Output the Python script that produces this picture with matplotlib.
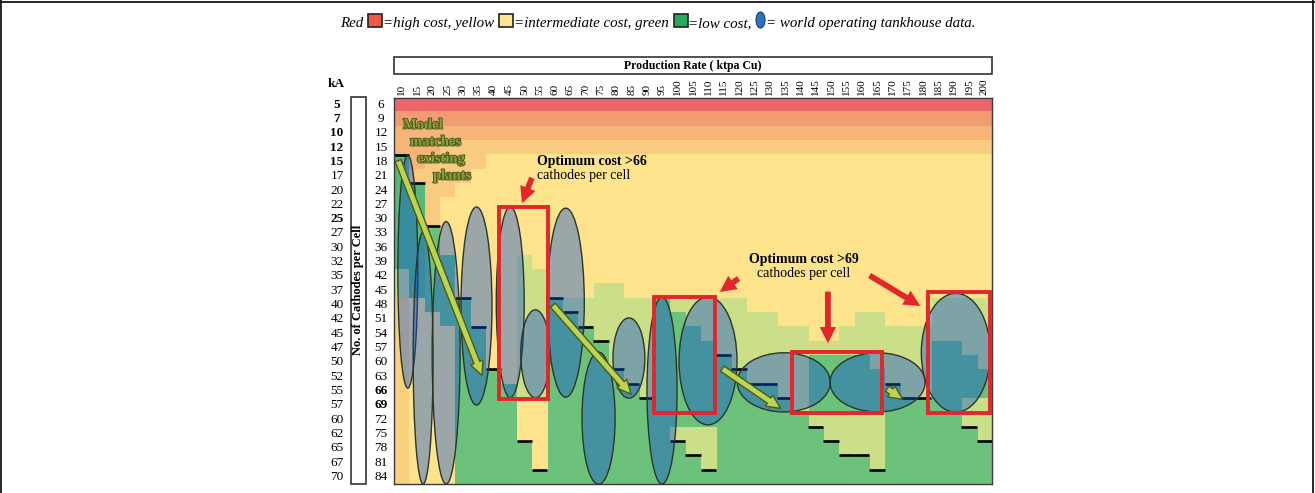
import numpy as np
import matplotlib
matplotlib.use("Agg")
import matplotlib.pyplot as plt
from matplotlib.patches import Ellipse, Rectangle, FancyArrowPatch
from matplotlib.colors import to_rgb
from matplotlib.transforms import blended_transform_factory
import matplotlib.patheffects as pe

plt.rcParams["font.family"] = ["Liberation Serif", "DejaVu Serif"]

W, H = 1315, 493

# ---- axes values -------------------------------------------------------
rates = [10, 15, 20, 25, 30, 35, 40, 45, 50, 55, 60, 65, 70, 75, 80, 85, 90, 95, 100,
         105, 110, 115, 120, 125, 130, 135, 140, 145, 150, 155, 160, 165, 170, 175,
         180, 185, 190, 195, 200]
kA = [5, 7, 10, 12, 15, 17, 20, 22, 25, 27, 30, 32, 35, 37, 40, 42, 45, 47, 50, 52,
      55, 57, 60, 62, 65, 67, 70]
cathodes = [6, 9, 12, 15, 18, 21, 24, 27, 30, 33, 36, 39, 42, 45, 48, 51, 54, 57, 60,
            63, 66, 69, 72, 75, 78, 81, 84]
bold_kA = [5, 7, 10, 12, 15, 25]
bold_cath = [66, 69]

# ---- cost class per cell: one run-length string per production rate, top row first
# R red, S salmon, O orange, P peach, Y yellow, Q orange-yellow, L light green, G green, D deep green
cost_cols = [
    "R1 S1 O2 D8 L2 Q13",           # 10
    "R1 S1 O3 P1 D8 Y13",           # 15
    "R1 S1 O2 P5 G6 Y12",           # 20
    "R1 S1 O1 P4 Y4 G5 Y11",        # 25
    "R1 S1 O1 P3 Y8 G13",           # 30
    "R1 S1 O1 P2 Y11 G11",          # 35
    "R1 S1 O1 P1 Y15 G8",           # 40
    "R1 S1 O1 P1 Y16 G7",           # 45
    "R1 S1 O1 P1 Y7 L10 Y3 G3",     # 50
    "R1 S1 O1 P1 Y8 L9 Y5 G1",      # 55
    "R1 S1 O1 P1 Y10 G13",          # 60
    "R1 S1 O1 P1 Y10 L1 G12",       # 65
    "R1 S1 O1 P1 Y10 L2 G11",       # 70
    "R1 S1 O1 P1 Y9 L4 G10",        # 75
    "R1 S1 O1 P1 Y9 L6 G8",         # 80
    "R1 S1 O1 P1 Y10 L6 G7",        # 85
    "R1 S1 O1 P1 Y10 L7 G6",        # 90
    "R1 S1 O1 P1 Y10 G13",          # 95
    "R1 S1 O1 P1 Y10 L1 G8 L1 G3",  # 100
    "R1 S1 O1 P1 Y10 L2 G7 L2 G2",  # 105
    "R1 S1 O1 P1 Y10 L3 G6 L3 G1",  # 110
    "R1 S1 O1 P1 Y10 L4 G9",        # 115
    "R1 S1 O1 P1 Y10 L5 G8",        # 120
    "R1 S1 O1 P1 Y11 L5 G7",        # 125
    "R1 S1 O1 P1 Y11 L5 G7",        # 130
    "R1 S1 O1 P1 Y12 L5 G6",        # 135
    "R1 S1 O1 P1 Y12 L6 G5",        # 140
    "R1 S1 O1 P1 Y13 L1 G4 L1 G4",  # 145
    "R1 S1 O1 P1 Y13 L1 G4 L2 G3",  # 150
    "R1 S1 O1 P1 Y12 L2 G4 L3 G2",  # 155
    "R1 S1 O1 P1 Y11 L3 G4 L3 G2",  # 160
    "R1 S1 O1 P1 Y11 L4 G3 L4 G1",  # 165
    "R1 S1 O1 P1 Y12 L4 G7",        # 170
    "R1 S1 O1 P1 Y12 L5 G6",        # 175
    "R1 S1 O1 P1 Y12 L5 G6",        # 180
    "R1 S1 O1 P1 Y10 L3 G10",       # 185
    "R1 S1 O1 P1 Y10 L3 G10",       # 190
    "R1 S1 O1 P1 Y10 L4 G3 L2 G4",  # 195
    "R1 S1 O1 P1 Y10 L5 G2 L3 G3",  # 200
]
cost_colors = {"R": "#ea666b", "S": "#f29a72", "O": "#f6b478", "P": "#f9cb80",
               "Y": "#fde48c", "Q": "#f7d17d", "L": "#cbdf88", "G": "#6cc27b",
               "D": "#55b97c"}

# black step marks (on top edge of the cell)
step_rate = [10, 15, 20, 30, 35, 40, 60, 65, 70, 75, 80, 85, 90, 115, 120, 125, 130, 135,
             140, 170, 175, 180, 50, 55, 100, 105, 110, 145, 150, 155, 160, 165, 195, 200]
step_cath = [18, 24, 33, 48, 54, 63, 48, 51, 54, 57, 63, 66, 69, 60, 63, 66, 66, 69,
             72, 66, 69, 69, 78, 84, 78, 81, 84, 75, 78, 81, 81, 84, 75, 78]

# world operating tankhouse data (ellipses): centre rate, centre cathodes, width, height
ell_rate = [12.0, 17.0, 24.5, 34.4, 45.4, 53.6, 63.5, 74.2, 84.1, 94.9, 109.9, 134.6, 165.2, 190.7]
ell_cath = [41.0, 59.1, 58.0, 48.2, 47.4, 58.2, 47.5, 71.7, 59.1, 65.9, 59.7, 64.2, 64.2, 58.0]
ell_w = [6.5, 6.5, 9.1, 10.1, 9.1, 9.5, 12.1, 10.8, 10.4, 9.8, 18.9, 30.3, 31.0, 22.5]
ell_h = [48.8, 52.8, 55.0, 41.5, 40.0, 18.4, 39.6, 27.7, 16.8, 39.2, 26.8, 12.4, 12.4, 24.9]

# red "optimum" boxes: rate0, cath0, rate1, cath1
box_r0 = [41.7, 92.3, 137.3, 181.6]
box_c0 = [27.4, 46.3, 57.8, 45.3]
box_r1 = [57.7, 112.2, 166.6, 201.9]
box_c1 = [67.7, 70.6, 70.6, 70.6]

# green trend arrows and red pointer arrows: start rate, start cath, end rate, end cath
garrows = [(8.5, 17.2, 36.5, 63.3), (58.7, 47.6, 85.4, 67.1),
           (113.8, 61.0, 134.3, 70.0), (167.6, 65.2, 174.1, 68.1)]
rarrows = [(52.8, 20.8, 48.9, 27.2), (120.6, 42.1, 113.0, 45.6),
           (149.0, 44.6, 149.0, 56.6), (161.8, 41.5, 179.9, 48.5)]


def decode(s):
    out = []
    for tok in s.split():
        out += [tok[0]] * int(tok[1:])
    return out


grid = np.array([decode(s) for s in cost_cols]).T
rgb = np.array([[to_rgb(cost_colors[c]) for c in row] for row in grid])

fig = plt.figure(figsize=(W / 100, H / 100), dpi=100)
ax = fig.add_axes([394 / W, (H - 484) / H, 598 / W, 386.5 / H])
ax.imshow(rgb, extent=(7.5, 202.5, 85.5, 4.5), aspect="auto", interpolation="nearest", zorder=0)
ax.set_xlim(7.5, 202.5)
ax.set_ylim(85.5, 4.5)

for r, c in zip(step_rate, step_cath):
    ax.plot([r - 2.5, r + 2.5], [c - 1.5, c - 1.5], color="black", lw=1.9, zorder=2,
            solid_capstyle="butt")

for x, y, w, h in zip(ell_rate, ell_cath, ell_w, ell_h):
    ax.add_patch(Ellipse((x, y), w, h, facecolor=(0.04, 0.29, 0.84, 0.4),
                         edgecolor="#2e3526", lw=1.0, zorder=3))

for r0, c0, r1, c1 in zip(box_r0, box_c0, box_r1, box_c1):
    ax.add_patch(Rectangle((r0, c0), r1 - r0, c1 - c0, fill=False, edgecolor="#e3262b",
                           lw=2.8, zorder=4))

for x0, y0, x1, y1 in garrows:
    ax.add_patch(FancyArrowPatch((x0, y0), (x1, y1),
                                 arrowstyle="simple,head_length=1.0,head_width=0.95,tail_width=0.45",
                                 mutation_scale=10, facecolor="#bdd453", edgecolor="#4d5a18",
                                 lw=1.0, zorder=5))
for x0, y0, x1, y1 in rarrows:
    ax.add_patch(FancyArrowPatch((x0, y0), (x1, y1),
                                 arrowstyle="simple,head_length=0.9,head_width=0.9,tail_width=0.32",
                                 mutation_scale=13, facecolor="#e3262b", edgecolor="none",
                                 zorder=6, clip_on=False))

ax.xaxis.tick_top()
ax.set_xticks(rates)
ax.set_xticklabels([str(r) for r in rates], rotation=90, fontsize=8)
ax.tick_params(axis="x", length=0, pad=2)
ax.set_yticks([])
for sp in ax.spines.values():
    sp.set_color("#3a3a3a")
    sp.set_linewidth(1.0)

tr = blended_transform_factory(ax.transAxes, ax.transData)
for k, c in zip(kA, cathodes):
    ax.text(-0.0953, c, str(k), transform=tr, ha="center", va="center", fontsize=9.5,
            fontweight="bold" if k in bold_kA else "normal")
    ax.text(-0.0217, c, str(c), transform=tr, ha="center", va="center", fontsize=9.5,
            fontweight="bold" if c in bold_cath else "normal")

# ---- overlay in pixel coordinates for framing text ----------------------
ov = fig.add_axes([0, 0, 1, 1], zorder=5)
ov.set_xlim(0, W)
ov.set_ylim(H, 0)
ov.axis("off")
ov.patch.set_alpha(0)

ov.add_patch(Rectangle((394, 57), 598, 17, facecolor="white", edgecolor="#333333", lw=1.2))
ov.text(693, 65.5, "Production Rate ( ktpa Cu)", ha="center", va="center", fontsize=8.5,
        fontweight="bold")
ov.text(336, 84, "kA", ha="center", va="center", fontsize=9.5, fontweight="bold")
ov.add_patch(Rectangle((351, 97), 15, 387, facecolor="white", edgecolor="#333333", lw=1.2))
ov.text(358.5, 290, "No. of Cathodes per Cell", rotation=90, ha="center", va="center",
        fontsize=9, fontweight="bold")

green_fx = [pe.withStroke(linewidth=1.3, foreground="#4a571c")]
for s, x, y in [("Model", 403, 125), ("matches", 410, 142), ("existing", 417, 159),
                ("plants", 433, 176)]:
    ov.text(x, y, s, ha="left", va="center", fontsize=10.5, fontweight="bold",
            color="#8aa23a", path_effects=green_fx)

ov.text(537, 161, "Optimum cost >66", ha="left", va="center", fontsize=10, fontweight="bold")
ov.text(537, 175, "cathodes per cell", ha="left", va="center", fontsize=10)
ov.text(804, 259, "Optimum cost >69", ha="center", va="center", fontsize=10, fontweight="bold")
ov.text(804, 273, "cathodes per cell", ha="center", va="center", fontsize=10)

# legend line
renderer = fig.canvas.get_renderer()
base = 27
xpos = 340


def put(s):
    global xpos
    t = ov.text(xpos, base, s, style="italic", fontsize=10.8, ha="left", va="baseline")
    xpos = t.get_window_extent(renderer).x1


def square(fc):
    global xpos
    ov.add_patch(Rectangle((xpos + 1.5, base - 13), 14, 13, facecolor=fc, edgecolor="#222222",
                           lw=1.2))
    xpos += 16


put("Red ")
square("#ef5b45")
put("=high cost, yellow ")
square("#fde592")
put("=intermediate cost, green ")
square("#27aa5c")
put("=low cost, ")
ov.add_patch(Ellipse((xpos + 5, base - 7), 9, 16, facecolor="#2f72be", edgecolor="#1c3f6a",
                     lw=0.8))
xpos += 11
put("= world operating tankhouse data.")

# page frame lines
ov.plot([1.5, 1.5], [0, H], color="black", lw=1.2)
ov.plot([0, W], [1.5, 1.5], color="black", lw=1.2)
ov.plot([W - 2, W - 2], [0, H], color="black", lw=1.2)

fig.savefig("out.png", dpi=100)
